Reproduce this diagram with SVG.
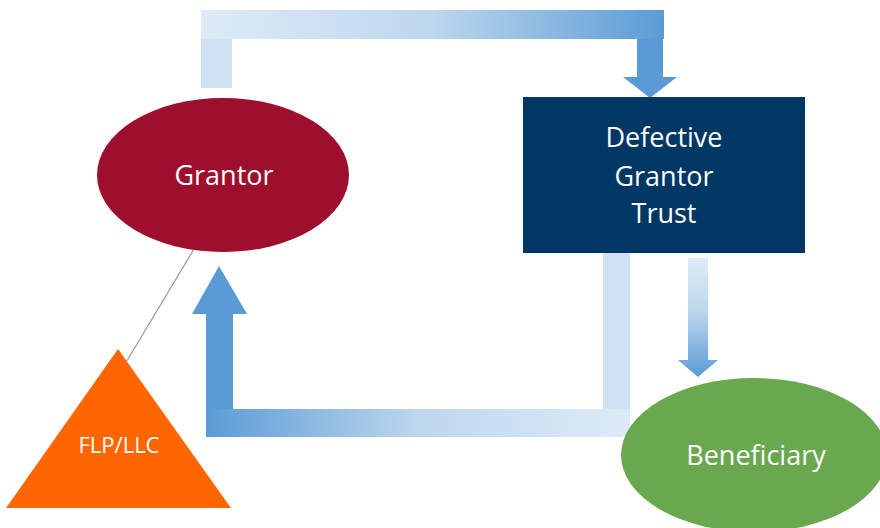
<svg xmlns="http://www.w3.org/2000/svg" width="880" height="528" viewBox="0 0 880 528">
<defs>
<linearGradient id="gTop" x1="0" y1="0" x2="1" y2="0">
<stop offset="0" stop-color="#DEEBF7"/>
<stop offset="0.5" stop-color="#BDD7EE"/>
<stop offset="1" stop-color="#5B9BD5"/>
</linearGradient>
<linearGradient id="gBot" x1="0" y1="0" x2="1" y2="0">
<stop offset="0" stop-color="#5B9BD5"/>
<stop offset="0.5" stop-color="#BDD7EE"/>
<stop offset="1" stop-color="#DEEBF7"/>
</linearGradient>
<linearGradient id="gDown" x1="0" y1="0" x2="0" y2="1">
<stop offset="0" stop-color="#DEEBF7"/>
<stop offset="0.45" stop-color="#BDD7EE"/>
<stop offset="1" stop-color="#5B9BD5"/>
</linearGradient>
<style>
text{font-family:"Open Sans","Liberation Sans",sans-serif;fill:#FFFFFF;text-anchor:middle}
.big{font-size:27px}
.small{font-size:22px}
</style>
</defs>
<rect width="880" height="528" fill="#FFFFFF"/>
<g id="connectors">
<rect x="201" y="39" width="31" height="49" fill="#CFE1F3"/>
<rect x="201" y="10" width="463" height="29" fill="url(#gTop)"/>
<polygon points="637,39 663,39 663,77 677,77 650,98 623,77 637,77" fill="#5B9BD5"/>
<rect x="603" y="253" width="27" height="156" fill="#CFE1F3"/>
<rect x="206" y="409" width="424" height="28" fill="url(#gBot)"/>
<polygon points="206,409 206,314 192,314 219,266 247,314 233,314 233,409" fill="#5B9BD5"/>
<polygon points="688,258 708,258 708,360 718,360 698,377 678,360 688,360" fill="url(#gDown)"/>
<line x1="194" y1="249" x2="125" y2="364" stroke="#999999" stroke-width="1.2"/>
</g>
<g id="grantor">
<ellipse cx="223" cy="175" rx="126" ry="77" fill="#9E0F2D"/>
<text class="big" x="224" y="185">Grantor</text>
</g>
<g id="trust">
<rect x="523" y="97" width="282" height="156" fill="#003865"/>
<text class="big" x="664" y="147">Defective</text>
<text class="big" x="664" y="186">Grantor</text>
<text class="big" x="664" y="223">Trust</text>
</g>
<g id="beneficiary">
<ellipse cx="754" cy="455" rx="133" ry="77" fill="#6AA84F"/>
<text class="big" x="756" y="465">Beneficiary</text>
</g>
<g id="flp">
<polygon points="118,349 231,508 6,508" fill="#FF6600"/>
<text class="small" x="119" y="453">FLP/LLC</text>
</g>
</svg>
